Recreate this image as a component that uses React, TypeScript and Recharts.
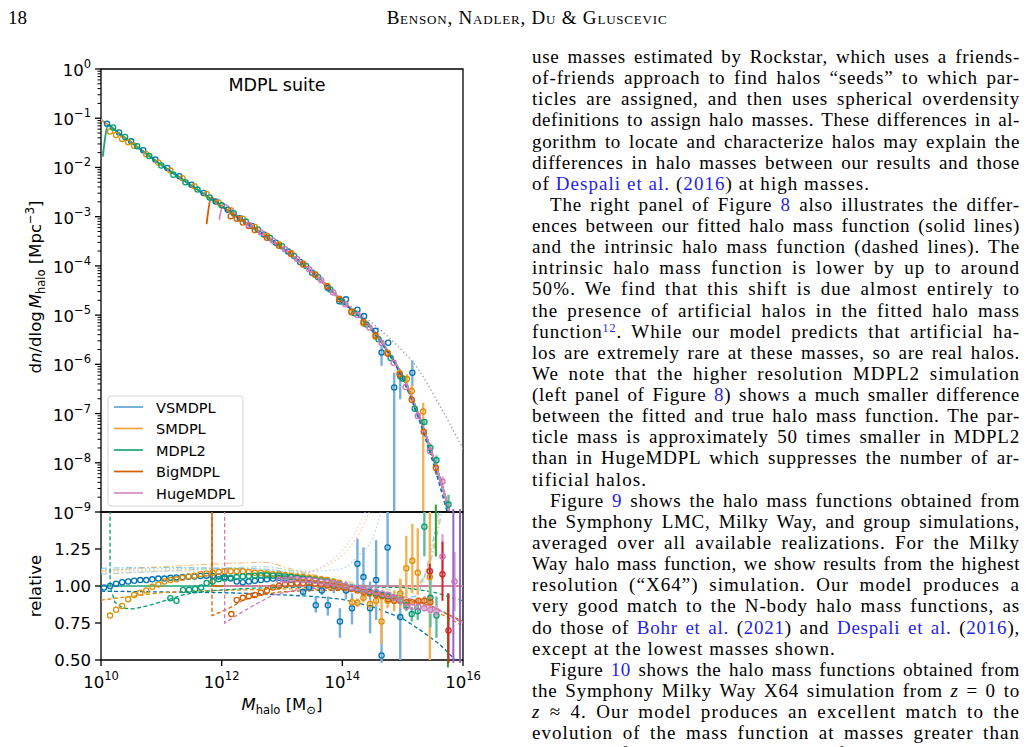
import React, { useLayoutEffect, useRef, useState } from "react";
import { ComposedChart, Line, Scatter, XAxis, YAxis, ErrorBar, ReferenceArea } from "recharts";

type Row = number[];

// ---- top panel: log10 M_halo and log10 dn/dlogM of the fitted HMF ----
const fitLogM = [10.0, 10.25, 10.5, 10.75, 11.0, 11.25, 11.5, 11.75, 12.0, 12.25, 12.5, 12.75, 13.0, 13.25, 13.5, 13.75, 14.0, 14.25, 14.5, 14.75, 15.0, 15.25, 15.5, 15.75, 16.0];
const fitLogN = [-1.03, -1.26, -1.49, -1.72, -1.95, -2.16, -2.37, -2.58, -2.79, -3.0, -3.21, -3.42, -3.63, -3.87, -4.13, -4.42, -4.72, -4.98, -5.29, -5.73, -6.24, -6.98, -7.86, -8.88, -10.1];

// resolution-limit spikes at the start of some fits
const mdpl2Spike: Row[] = [[10.03, -1.78], [10.12, -1.14]];
const bigmdplSpike: Row[] = [[11.75, -3.15], [11.83, -2.62]];
const hugemdplSpike: Row[] = [[11.96, -3.06], [12.03, -2.74], [12.25, -2.97]];

// reference model (dotted)
const refModel: Row[] = [[10.0, -1.02], [11.0, -1.94], [12.0, -2.78], [13.0, -3.61], [13.5, -4.1], [14.0, -4.68], [14.3, -4.97], [14.62, -5.29], [15.0, -5.73], [15.18, -5.97], [15.62, -6.85], [16.0, -7.72]];
const vsmdplIntrinsic: Row[] = [[14.0, -4.74], [14.5, -5.33], [15.0, -6.3], [15.25, -7.05], [15.5, -7.98], [15.75, -9.05]];

// measured points [logM, logN, errDown, errUp]
const vsmdplTop: Row[] = [[10.1, -1.11], [10.3, -1.29], [10.5, -1.47], [10.7, -1.65], [10.9, -1.84], [11.1, -2.01], [11.3, -2.18], [11.5, -2.35], [11.7, -2.52], [11.9, -2.69], [12.1, -2.86], [12.3, -3.03], [12.5, -3.19], [12.7, -3.36], [12.9, -3.53], [13.1, -3.71], [13.3, -3.92], [13.5, -4.14], [13.76, -4.45], [13.95, -4.72], [14.06, -4.68], [14.25, -4.89], [14.36, -5.02], [14.55, -5.32], [14.65, -5.76, 0.27, 0.16], [14.76, -5.56], [14.86, -6.47, 2.53, 0.3], [14.96, -6.24, 0.47, 0.08], [15.16, -6.17, 0.27, 0.24]];
const smdplTop: Row[] = [[10.15, -1.27], [10.25, -1.34], [10.35, -1.42], [10.45, -1.49], [10.55, -1.56], [10.75, -1.73], [10.95, -1.9], [11.15, -2.06], [11.35, -2.22], [11.55, -2.38], [11.75, -2.54], [11.95, -2.71], [12.15, -2.87], [12.35, -3.04], [12.55, -3.21], [12.75, -3.39], [12.95, -3.56], [13.15, -3.74], [13.35, -3.95], [13.55, -4.17], [13.75, -4.41], [13.95, -4.67], [14.15, -4.94, 0.02, 0.02], [14.35, -5.17, 0.03, 0.03], [14.55, -5.44, 0.05, 0.05], [14.75, -5.77, 0.08, 0.07], [14.95, -6.18, 0.1, 0.09], [15.07, -6.3, 0.12, 0.1], [15.15, -6.54, 0.15, 0.12], [15.34, -6.96, 2.04, 0.18]];
const mdpl2Top: Row[] = [[10.2, -1.19], [10.4, -1.38], [10.6, -1.57], [10.8, -1.77], [11.0, -1.96], [11.2, -2.15], [11.4, -2.3], [11.6, -2.45], [11.8, -2.61], [12.0, -2.77], [12.2, -2.93], [12.4, -3.1], [12.6, -3.26], [12.8, -3.43], [13.0, -3.6], [13.2, -3.8], [13.4, -4.0], [13.6, -4.23], [13.8, -4.48], [14.0, -4.73], [14.2, -4.96], [14.4, -5.19], [14.6, -5.49], [14.8, -5.87], [15.0, -6.29, 0.02, 0.02], [15.2, -6.9, 0.04, 0.04], [15.36, -7.17, 0.06, 0.05], [15.46, -7.7, 0.1, 0.09], [15.56, -7.95, 0.3, 0.1], [15.76, -8.85, 0.15, 0.2]];
const bigmdplTop: Row[] = [[12.15, -2.99], [12.25, -3.04], [12.35, -3.12], [12.45, -3.19], [12.55, -3.27], [12.75, -3.43], [12.95, -3.59], [13.15, -3.76], [13.35, -3.97], [13.55, -4.18], [13.75, -4.42], [13.95, -4.68], [14.15, -4.93], [14.35, -5.14], [14.55, -5.41], [14.75, -5.78], [14.95, -6.2], [15.15, -6.72, 0.03, 0.03], [15.35, -7.37, 0.06, 0.05], [15.55, -8.1, 0.12, 0.1]];
const hugemdplTop: Row[] = [[12.45, -3.17], [12.65, -3.32], [12.85, -3.49], [13.05, -3.66], [13.25, -3.86], [13.45, -4.07], [13.65, -4.29], [13.85, -4.54], [14.05, -4.78], [14.25, -5.0], [14.45, -5.25], [14.65, -5.56], [14.85, -5.97], [15.05, -6.46], [15.25, -7.05, 0.02, 0.02], [15.45, -7.76, 0.05, 0.05], [15.66, -8.38, 0.12, 0.1]];

// ---- bottom panel: ratio to fit [logM, ratio, errDown, errUp] ----
const vsmdplRel: Row[] = [[10.05, 0.99], [10.15, 1.0], [10.25, 1.015], [10.35, 1.025], [10.45, 1.03], [10.55, 1.035], [10.65, 1.04], [10.75, 1.04], [10.85, 1.045], [10.95, 1.05], [11.05, 1.05], [11.15, 1.055], [11.25, 1.058], [11.35, 1.06], [11.45, 1.063], [11.55, 1.065], [11.65, 1.068], [11.75, 1.07], [11.85, 1.068], [11.95, 1.065], [12.05, 1.06], [12.15, 1.05], [12.25, 1.03], [12.35, 1.025], [12.45, 1.03], [12.55, 1.035], [12.65, 1.04], [12.75, 1.045], [12.85, 1.05], [12.95, 1.055], [13.05, 1.05], [13.15, 1.04], [13.25, 1.02], [13.35, 0.96, 0.02, 0.02], [13.45, 0.99, 0.03, 0.03], [13.56, 0.87, 0.05, 0.06], [13.66, 0.97, 0.03, 0.03], [13.76, 0.87, 0.07, 0.06], [13.86, 1.0, 0.05, 0.05], [13.96, 0.76, 0.11, 0.09], [14.06, 0.97, 0.06, 0.06], [14.16, 0.85, 0.11, 0.1], [14.25, 1.15, 0.19, 0.17], [14.35, 1.06, 0.15, 0.2], [14.46, 0.85, 0.17, 0.18], [14.56, 1.04, 0.27, 0.27], [14.65, 0.53, 0.05, 0.24], [14.75, 1.26, 0.26, 0.24], [14.96, 0.79, 0.29, 0.25]];
const smdplRel: Row[] = [[10.15, 0.8], [10.25, 0.84], [10.35, 0.865], [10.45, 0.91], [10.55, 0.94], [10.65, 0.955], [10.75, 0.97], [10.85, 0.995], [10.95, 1.01], [11.05, 1.03], [11.15, 1.04], [11.25, 1.045], [11.35, 1.055], [11.45, 1.065], [11.55, 1.07], [11.65, 1.08], [11.75, 1.085], [11.85, 1.09], [11.95, 1.095], [12.05, 1.1], [12.15, 1.1], [12.25, 1.1], [12.35, 1.1], [12.45, 1.095], [12.55, 1.09], [12.65, 1.09], [12.75, 1.085], [12.85, 1.08], [12.95, 1.08], [13.05, 1.075], [13.15, 1.07], [13.25, 1.065], [13.35, 1.06], [13.45, 1.055], [13.55, 1.05], [13.65, 1.045], [13.75, 1.04], [13.85, 1.03, 0.01, 0.01], [13.95, 1.02, 0.01, 0.01], [14.05, 1.0, 0.02, 0.02], [14.16, 0.89, 0.02, 0.02], [14.25, 0.887, 0.03, 0.03], [14.35, 0.92, 0.03, 0.03], [14.46, 0.878, 0.03, 0.03], [14.56, 0.9, 0.04, 0.04], [14.65, 0.76, 0.15, 0.2], [14.75, 0.9, 0.05, 0.05], [14.86, 0.9, 0.07, 0.07], [14.96, 0.95, 0.1, 0.1], [15.06, 1.12, 0.2, 0.22], [15.16, 1.17, 0.22, 0.25], [15.25, 1.09, 0.15, 0.3], [15.45, 1.06, 0.56, 0.44]];
const mdpl2Rel: Row[] = [[11.15, 0.917], [11.25, 0.9], [11.36, 0.973], [11.46, 0.975], [11.56, 0.98], [11.66, 0.99], [11.75, 1.02], [11.85, 1.03], [11.95, 1.045], [12.05, 1.05], [12.15, 1.055], [12.25, 1.06], [12.35, 1.065], [12.45, 1.068], [12.55, 1.07], [12.65, 1.072], [12.75, 1.072], [12.85, 1.07], [12.95, 1.07], [13.05, 1.065], [13.15, 1.06], [13.25, 1.055], [13.35, 1.05], [13.45, 1.045], [13.55, 1.04], [13.65, 1.035], [13.75, 1.03], [13.85, 1.02], [13.95, 1.01], [14.05, 1.0], [14.15, 0.99], [14.25, 0.98], [14.35, 0.975], [14.45, 0.96], [14.56, 0.95], [14.66, 0.94], [14.76, 0.93], [14.86, 0.92, 0.02, 0.02], [14.96, 0.9, 0.03, 0.03], [15.06, 0.87, 0.04, 0.04], [15.15, 0.81, 0.05, 0.05], [15.25, 0.83, 0.06, 0.07], [15.36, 1.4, 0.2, 0.1], [15.46, 0.92, 0.2, 0.2], [15.56, 0.8, 0.15, 0.13]];
const bigmdplRel: Row[] = [[12.16, 0.81], [12.25, 0.905], [12.35, 0.92], [12.45, 0.93], [12.55, 0.94], [12.65, 0.955], [12.75, 0.97], [12.85, 0.99], [12.95, 1.0], [13.05, 1.01], [13.15, 1.015], [13.25, 1.02], [13.35, 1.02], [13.45, 1.02], [13.55, 1.015], [13.65, 1.01], [13.75, 1.005], [13.85, 1.0], [13.95, 0.995], [14.05, 0.99], [14.15, 0.98], [14.25, 0.97], [14.35, 0.96], [14.45, 0.95], [14.56, 0.94], [14.66, 0.93], [14.76, 0.91], [14.86, 0.9], [14.96, 0.9], [15.06, 0.89, 0.01, 0.01], [15.16, 0.89, 0.01, 0.01], [15.26, 0.9, 0.02, 0.02], [15.36, 0.9, 0.03, 0.03], [15.46, 0.89, 0.04, 0.04]];
const hugemdplRel: Row[] = [[12.95, 1.04], [13.05, 1.04], [13.15, 1.045], [13.25, 1.045], [13.35, 1.04], [13.45, 1.04], [13.55, 1.035], [13.65, 1.03], [13.75, 1.025], [13.85, 1.02], [13.95, 1.01], [14.05, 1.0], [14.15, 0.99], [14.25, 0.985], [14.35, 0.975], [14.45, 0.97], [14.56, 0.96], [14.66, 0.95], [14.76, 0.94], [14.86, 0.92], [14.96, 0.9], [15.06, 0.86], [15.16, 0.86], [15.26, 0.86], [15.36, 0.85, 0.02, 0.02], [15.46, 0.84, 0.03, 0.03], [15.56, 0.83, 0.04, 0.04], [15.66, 1.2, 0.15, 0.15], [15.86, 1.03, 0.2, 0.2]];
const redRel: Row[] = [[15.45, 1.1, 0.05, 0.05], [15.66, 1.08, 0.18, 0.22], [15.76, 0.7, 0.22, 0.25]];
const purpleRel: Row[] = [[15.84, 1.0, 0.52, 0.52], [15.95, 1.0, 0.52, 0.52]];
const greenRel: Row[] = [[15.55, 1.35, 0.15, 0.2], [15.75, 0.75, 0.3, 0.2]];

// intrinsic (dashed) ratio curves
const vsmdplDash: Row[] = [[10.0, 0.965], [11.0, 0.96], [12.0, 0.955], [12.5, 0.95], [13.0, 0.94], [13.5, 0.93], [14.0, 0.91], [14.5, 0.86], [15.0, 0.78], [15.3, 0.7], [15.6, 0.61], [16.0, 0.45]];
const smdplDash: Row[] = [[10.0, 0.905], [10.5, 0.93], [11.0, 0.955], [11.5, 0.965], [12.0, 0.97], [12.5, 0.975], [13.0, 0.98], [13.5, 0.98], [14.0, 0.975], [14.5, 0.96], [15.0, 0.92], [15.5, 0.84], [16.0, 0.73]];
const mdpl2Dash: Row[] = [[10.15, 1.6], [10.15, 1.0], [10.23, 0.89], [10.37, 0.85], [10.54, 0.845], [10.81, 0.87], [11.09, 0.905], [11.36, 0.94], [11.64, 0.96], [11.9, 0.97], [12.5, 0.985], [13.0, 0.99], [14.0, 0.995], [15.0, 0.99], [15.5, 0.96], [16.0, 0.9]];
const bigmdplDash: Row[] = [[11.84, 1.6], [11.84, 0.8], [12.08, 0.84], [12.36, 0.905], [12.64, 0.94], [12.97, 0.96], [13.5, 0.97], [14.0, 0.97], [14.5, 0.955], [15.0, 0.92], [15.5, 0.86], [16.0, 0.76]];
const hugemdplDash: Row[] = [[12.05, 1.6], [12.05, 0.75], [12.3, 0.815], [12.58, 0.88], [12.86, 0.94], [13.2, 0.97], [13.6, 0.985], [14.0, 0.985], [14.5, 0.97], [15.0, 0.93], [15.5, 0.86], [16.0, 0.75]];

// fit/fit = 1 (solid)
const unityGreen: Row[] = [[10.0, 1.0], [16.0, 1.0]];
const unityOrange: Row[] = [[11.84, 1.6], [11.84, 1.0], [16.0, 1.0]];
const unityPink: Row[] = [[12.03, 1.0], [16.0, 1.0]];

// faint comparison curves
const faintBlue: Row[] = [[10.0, 1.12], [11.0, 1.125], [12.0, 1.12], [12.7, 1.115], [13.2, 1.08], [13.7, 1.04], [14.2, 0.99], [14.6, 0.95], [15.0, 0.92], [15.2, 0.93], [15.35, 1.05], [15.5, 1.3], [15.62, 1.55]];
const faintOrange: Row[] = [[10.0, 1.1], [11.0, 1.13], [12.0, 1.15], [12.7, 1.16], [13.2, 1.11], [13.7, 1.06], [14.2, 1.02], [14.7, 0.98], [15.0, 0.96], [15.3, 1.02], [15.5, 1.25], [15.65, 1.55]];
const faintGreen: Row[] = [[10.0, 1.08], [11.0, 1.1], [12.0, 1.12], [12.7, 1.13], [13.2, 1.1], [13.7, 1.05], [14.2, 1.01], [15.0, 0.95], [15.4, 1.1], [15.6, 1.4], [15.7, 1.6]];
const dottedPink: Row[] = [[10.0, 1.09], [12.0, 1.1], [12.8, 1.09], [13.2, 1.08], [13.6, 1.12], [14.0, 1.24], [14.2, 1.35], [14.4, 1.52]];
const dottedOrange: Row[] = [[10.0, 1.1], [12.0, 1.11], [12.8, 1.1], [13.3, 1.09], [13.7, 1.13], [14.1, 1.25], [14.3, 1.37], [14.5, 1.55]];
const dottedBlue: Row[] = [[10.0, 1.11], [12.0, 1.12], [13.0, 1.1], [13.5, 1.1], [14.0, 1.12], [14.3, 1.22], [14.5, 1.32], [14.65, 1.52]];

const xTicks = [10, 12, 14, 16];
const yMajorTop = [-9, -8, -7, -6, -5, -4, -3, -2, -1, 0];
const minorFactors = [2, 3, 4, 5, 6, 7, 8, 9];
const yTicksRel = [0.5, 0.75, 1.0, 1.25];
const legendNames = ["VSMDPL", "SMDPL", "MDPL2", "BigMDPL", "HugeMDPL"];

const C = { vsmdpl: "#0173b2", smdpl: "#de8f05", mdpl2: "#029e73", bigmdpl: "#d55e00", hugemdpl: "#cc78bc" };
const LIGHT = { vsmdpl: "#5ea3d5", smdpl: "#eaa73b", mdpl2: "#1ba478", bigmdpl: "#d55e00", hugemdpl: "#d48ac6" };
const ERR = { vsmdpl: "#78b0dc", smdpl: "#f4b257", mdpl2: "#5fbd9d", bigmdpl: "#e58a4d", hugemdpl: "#e0a6d5" };
const legendColors = [LIGHT.vsmdpl, LIGHT.smdpl, LIGHT.mdpl2, LIGHT.bigmdpl, LIGHT.hugemdpl];
const FONT = '"DejaVu Sans", sans-serif';
const SERIF = '"Liberation Serif", serif';
const LINK = "#1f1fe6";

const zip = (xs: number[], ys: number[]) => xs.map((x, i) => ({ x, y: ys[i] }));
const rowsToLine = (rows: Row[]) => rows.map(([x, y]) => ({ x, y }));
const rowsToPts = (rows: Row[]) => rows.map(([x, y, lo = 0, hi = lo]) => ({ x, y, err: [lo, hi] }));

const vsmdplFit = zip(fitLogM, fitLogN);
const mdpl2Fit = [...rowsToLine(mdpl2Spike), ...zip(fitLogM.slice(1), fitLogN.slice(1))];
const bigmdplFit = [...rowsToLine(bigmdplSpike), ...zip(fitLogM.slice(8), fitLogN.slice(8))];
const hugemdplFit = [...rowsToLine(hugemdplSpike), ...zip(fitLogM.slice(10), fitLogN.slice(10))];

const yTicksTop: number[] = [...yMajorTop];
yMajorTop.slice(0, -1).forEach((n) => minorFactors.forEach((k) => yTicksTop.push(n + Math.log10(k))));

const ring = (color: string, r = 2.6) => (p: any) =>
  p.cx == null ? <g /> : <circle cx={p.cx} cy={p.cy} r={r} fill="none" stroke={color} strokeWidth={1.3} />;
const noMark = () => <g />;

const LogYTick = (props: any) => {
  const { x, y, payload } = props;
  const v = payload.value as number;
  const major = Math.abs(v - Math.round(v)) < 1e-6;
  return (
    <g>
      <line x1={x} x2={x - (major ? 6 : 3.5)} y1={y} y2={y} stroke="#000" strokeWidth={major ? 1.3 : 1} />
      {major && (
        <text x={x - 10} y={y + 7} textAnchor="end" fontSize={16.5} fontFamily={FONT} fill="#000">
          10
          <tspan dy={-8} fontSize={11.5}>{v === 0 ? "0" : `\u2212${-v}`}</tspan>
        </text>
      )}
    </g>
  );
};

const RelYTick = (props: any) => {
  const { x, y, payload } = props;
  return (
    <g>
      <line x1={x} x2={x - 6} y1={y} y2={y} stroke="#000" strokeWidth={1.3} />
      <text x={x - 10} y={y + 6} textAnchor="end" fontSize={16.5} fontFamily={FONT} fill="#000">
        {(payload.value as number).toFixed(2)}
      </text>
    </g>
  );
};

const LogXTick = (props: any) => {
  const { x, y, payload } = props;
  return (
    <g>
      <line x1={x} x2={x} y1={y} y2={y + 6} stroke="#000" strokeWidth={1.3} />
      <text x={x} y={y + 28} textAnchor="middle" fontSize={16.5} fontFamily={FONT} fill="#000">
        10
        <tspan dy={-8} fontSize={11.5}>{payload.value}</tspan>
      </text>
    </g>
  );
};

const A = ({ children }: { children: React.ReactNode }) => <span style={{ color: LINK }}>{children}</span>;
const Sup = ({ children }: { children: React.ReactNode }) => (
  <span style={{ fontSize: 12, position: "relative", top: -6, lineHeight: 0 }}>{children}</span>
);

type BodyLine = { t: React.ReactNode; indent?: boolean; last?: boolean };
const bodyLines: BodyLine[] = [
  { t: <>use masses estimated by Rockstar, which uses a friends-</> },
  { t: <>of-friends approach to find halos “seeds” to which par-</> },
  { t: <>ticles are assigned, and then uses spherical overdensity</> },
  { t: <>definitions to assign halo masses. These differences in al-</> },
  { t: <>gorithm to locate and characterize halos may explain the</> },
  { t: <>differences in halo masses between our results and those</> },
  { t: <>of <A>Despali et al.</A> (<A>2016</A>) at high masses.</>, last: true },
  { t: <>The right panel of Figure <A>8</A> also illustrates the differ-</>, indent: true },
  { t: <>ences between our fitted halo mass function (solid lines)</> },
  { t: <>and the intrinsic halo mass function (dashed lines). The</> },
  { t: <>intrinsic halo mass function is lower by up to around</> },
  { t: <>50%. We find that this shift is due almost entirely to</> },
  { t: <>the presence of artificial halos in the fitted halo mass</> },
  { t: <>function<Sup><A>12</A></Sup>. While our model predicts that artificial ha-</> },
  { t: <>los are extremely rare at these masses, so are real halos.</> },
  { t: <>We note that the higher resolution MDPL2 simulation</> },
  { t: <>(left panel of Figure <A>8</A>) shows a much smaller difference</> },
  { t: <>between the fitted and true halo mass function. The par-</> },
  { t: <>ticle mass is approximately 50 times smaller in MDPL2</> },
  { t: <>than in HugeMDPL which suppresses the number of ar-</> },
  { t: <>tificial halos.</>, last: true },
  { t: <>Figure <A>9</A> shows the halo mass functions obtained from</>, indent: true },
  { t: <>the Symphony LMC, Milky Way, and group simulations,</> },
  { t: <>averaged over all available realizations. For the Milky</> },
  { t: <>Way halo mass function, we show results from the highest</> },
  { t: <>resolution (“X64”) simulation. Our model produces a</> },
  { t: <>very good match to the N-body halo mass functions, as</> },
  { t: <>do those of <A>Bohr et al.</A> (<A>2021</A>) and <A>Despali et al.</A> (<A>2016</A>),</> },
  { t: <>except at the lowest masses shown.</>, last: true },
  { t: <>Figure <A>10</A> shows the halo mass functions obtained from</>, indent: true },
  { t: <>the Symphony Milky Way X64 simulation from <i>z</i> = 0 to</> },
  { t: <><i>z</i> ≈ 4. Our model produces an excellent match to the</> },
  { t: <>evolution of the mass function at masses greater than</> },
  { t: <>around 10<Sup>9</Sup>M<sub>⊙</sub>, and to the lack of evolution at lower</> },
];

const COL_LEFT = 532;
const COL_WIDTH = 488;
const BODY_FS = 19;
const PITCH = 21.13;

// Justified column: per line, part of the free space goes to tracking (wider Computer Modern look)
function BodyText() {
  const refs = useRef<(HTMLSpanElement | null)[]>([]);
  const [spacing, setSpacing] = useState<number[] | null>(null);
  useLayoutEffect(() => {
    const out = bodyLines.map((ln, i) => {
      const el = refs.current[i];
      if (!el) return 0.6;
      const w0 = el.getBoundingClientRect().width;
      const n = Math.max(1, (el.textContent || "").length);
      if (ln.last) return 1.05;
      const target = COL_WIDTH - (ln.indent ? 18 : 0);
      const extra = target - w0;
      return extra < 0 ? extra / n - 0.03 : Math.min(1.2, (extra * 0.65) / n);
    });
    setSpacing(out);
  }, []);
  return (
    <>
      {bodyLines.map((ln, i) => {
        const w = COL_WIDTH - (ln.indent ? 18 : 0);
        const base: React.CSSProperties = {
          position: "absolute",
          left: COL_LEFT + (ln.indent ? 18 : 0),
          top: 46 + i * PITCH,
          fontFamily: SERIF,
          fontSize: BODY_FS,
          lineHeight: `${PITCH}px`,
          color: "#000",
        };
        if (!spacing) {
          return (
            <span key={i} ref={(el) => { refs.current[i] = el; }} style={{ ...base, whiteSpace: "nowrap", display: "inline-block" }}>
              {ln.t}
            </span>
          );
        }
        return (
          <div
            key={i}
            style={{
              ...base,
              width: w,
              letterSpacing: spacing[i],
              whiteSpace: "nowrap",
              textAlign: ln.last ? "left" : "justify",
              textAlignLast: ln.last ? "left" : "justify",
            }}
          >
            {ln.t}
          </div>
        );
      })}
    </>
  );
}

const topSeries = [
  { key: "vsmdpl", pts: vsmdplTop, fit: vsmdplFit },
  { key: "smdpl", pts: smdplTop, fit: vsmdplFit },
  { key: "mdpl2", pts: mdpl2Top, fit: mdpl2Fit },
  { key: "bigmdpl", pts: bigmdplTop, fit: bigmdplFit },
  { key: "hugemdpl", pts: hugemdplTop, fit: hugemdplFit },
] as const;

const relSeries = [
  { key: "vsmdpl", pts: vsmdplRel, dash: vsmdplDash },
  { key: "smdpl", pts: smdplRel, dash: smdplDash },
  { key: "mdpl2", pts: mdpl2Rel, dash: mdpl2Dash },
  { key: "bigmdpl", pts: bigmdplRel, dash: bigmdplDash },
  { key: "hugemdpl", pts: hugemdplRel, dash: hugemdplDash },
] as const;

const faintLines = [
  { d: faintBlue, c: "#56b4e9", dash: "6 2.5 1.5 2.5" },
  { d: faintOrange, c: "#f0b35a", dash: "6 2.5 1.5 2.5" },
  { d: faintGreen, c: "#7fcdb3", dash: "6 2.5 1.5 2.5" },
  { d: dottedPink, c: "#f3b6df", dash: "1.5 2.5" },
  { d: dottedOrange, c: "#f3c27a", dash: "1.5 2.5" },
  { d: dottedBlue, c: "#8cc6ee", dash: "1.5 2.5" },
];

export default function App() {
  return (
    <div style={{ position: "absolute", left: 0, top: 0, width: 1027, height: 747, overflow: "hidden", background: "#fff" }}>
      {/* upper panel */}
      <div style={{ position: "absolute", left: 0, top: 0 }}>
        <ComposedChart width={500} height={540} margin={{ top: 69, right: 37, bottom: 28, left: 0 }}>
          <XAxis type="number" dataKey="x" domain={[10, 16]} allowDataOverflow hide />
          <YAxis
            type="number"
            dataKey="y"
            domain={[-9, 0]}
            allowDataOverflow
            width={101}
            ticks={yTicksTop}
            interval={0}
            tickSize={0}
            tickMargin={0}
            tickLine={false}
            axisLine={false}
            tick={LogYTick}
          />
          <Line data={rowsToLine(refModel)} dataKey="y" type="monotone" stroke="#a39182" strokeWidth={1.3} strokeDasharray="1.3 2.6" dot={false} activeDot={false} isAnimationActive={false} />
          {topSeries.map((s) => (
            <Scatter key={s.key + "p"} data={rowsToPts(s.pts)} dataKey="y" shape={ring(C[s.key])} isAnimationActive={false}>
              <ErrorBar dataKey="err" direction="y" width={0} stroke={ERR[s.key]} strokeWidth={2.4} />
            </Scatter>
          ))}
          {topSeries.map((s) => (
            <Line key={s.key + "f"} data={s.fit} dataKey="y" type="monotone" stroke={LIGHT[s.key]} strokeWidth={1.8} dot={false} activeDot={false} isAnimationActive={false} />
          ))}
          <Line data={rowsToLine(vsmdplIntrinsic)} dataKey="y" type="monotone" stroke={C.vsmdpl} strokeWidth={1.6} strokeDasharray="4 2.5" dot={false} activeDot={false} isAnimationActive={false} />
          <ReferenceArea x1={10} x2={16} y1={-9} y2={0} fill="none" stroke="#000" strokeWidth={1.3} />
        </ComposedChart>
      </div>

      {/* lower panel */}
      <div style={{ position: "absolute", left: 0, top: 500 }}>
        <ComposedChart width={500} height={247} margin={{ top: 12, right: 37, bottom: 0, left: 0 }}>
          <XAxis
            type="number"
            dataKey="x"
            domain={[10, 16]}
            allowDataOverflow
            height={87}
            ticks={xTicks}
            interval={0}
            tickSize={0}
            tickMargin={0}
            tickLine={false}
            axisLine={false}
            tick={LogXTick}
          />
          <YAxis
            type="number"
            dataKey="y"
            domain={[0.5, 1.5]}
            allowDataOverflow
            width={101}
            ticks={yTicksRel}
            interval={0}
            tickSize={0}
            tickMargin={0}
            tickLine={false}
            axisLine={false}
            tick={RelYTick}
          />
          {faintLines.map((f, i) => (
            <Line key={"faint" + i} data={rowsToLine(f.d)} dataKey="y" type="monotone" stroke={f.c} strokeOpacity={0.75} strokeWidth={1.2} strokeDasharray={f.dash} dot={false} activeDot={false} isAnimationActive={false} />
          ))}
          {relSeries.map((s) => (
            <Line key={s.key + "d"} data={rowsToLine(s.dash)} dataKey="y" type="linear" stroke={C[s.key]} strokeWidth={1.3} strokeDasharray="4 2.5" dot={false} activeDot={false} isAnimationActive={false} />
          ))}
          <Line data={rowsToLine(unityGreen)} dataKey="y" type="linear" stroke={LIGHT.mdpl2} strokeWidth={1.7} dot={false} activeDot={false} isAnimationActive={false} />
          <Line data={rowsToLine(unityOrange)} dataKey="y" type="linear" stroke={LIGHT.bigmdpl} strokeWidth={1.5} dot={false} activeDot={false} isAnimationActive={false} />
          <Line data={rowsToLine(unityPink)} dataKey="y" type="linear" stroke={LIGHT.hugemdpl} strokeWidth={1.7} dot={false} activeDot={false} isAnimationActive={false} />
          {relSeries.map((s) => (
            <Scatter key={s.key + "r"} data={rowsToPts(s.pts)} dataKey="y" shape={ring(C[s.key])} isAnimationActive={false}>
              <ErrorBar dataKey="err" direction="y" width={0} stroke={ERR[s.key]} strokeWidth={2.4} />
            </Scatter>
          ))}
          <Scatter data={rowsToPts(greenRel)} dataKey="y" shape={noMark} isAnimationActive={false}>
            <ErrorBar dataKey="err" direction="y" width={0} stroke="#2ca02c" strokeWidth={2} />
          </Scatter>
          <Scatter data={rowsToPts(redRel)} dataKey="y" shape={ring("#d62728")} isAnimationActive={false}>
            <ErrorBar dataKey="err" direction="y" width={0} stroke="#d62728" strokeWidth={2} />
          </Scatter>
          <Scatter data={rowsToPts(purpleRel)} dataKey="y" shape={noMark} isAnimationActive={false}>
            <ErrorBar dataKey="err" direction="y" width={0} stroke="#9467bd" strokeWidth={2} />
          </Scatter>
          <ReferenceArea x1={10} x2={16} y1={0.5} y2={1.5} fill="none" stroke="#000" strokeWidth={1.3} />
        </ComposedChart>
      </div>

      {/* figure texts and legend */}
      <svg width={1027} height={747} style={{ position: "absolute", left: 0, top: 0, pointerEvents: "none" }}>
        <text x={277} y={91} textAnchor="middle" fontSize={17.5} fontFamily={FONT} fill="#000">MDPL suite</text>
        <text transform="translate(41,287) rotate(-90)" textAnchor="middle" fontSize={16.5} fontFamily={FONT} fill="#000">
          d<tspan fontStyle="italic">n</tspan>/dlog
          <tspan dx={3} fontStyle="italic">M</tspan>
          <tspan fontSize={11.5} dy={4}>halo</tspan>
          <tspan dy={-4}>{" [Mpc"}</tspan>
          <tspan fontSize={11.5} dy={-7}>{"\u22123"}</tspan>
          <tspan dy={7}>]</tspan>
        </text>
        <text transform="translate(41,586) rotate(-90)" textAnchor="middle" fontSize={16.5} fontFamily={FONT} fill="#000">relative</text>
        <text x={282} y={710} textAnchor="middle" fontSize={16.5} fontFamily={FONT} fill="#000">
          <tspan fontStyle="italic">M</tspan>
          <tspan fontSize={11.5} dy={4}>halo</tspan>
          <tspan dy={-4}>{" [M"}</tspan>
          <tspan fontSize={11.5} dy={4}>{"\u2299"}</tspan>
          <tspan dy={-4}>]</tspan>
        </text>
        <rect x={108} y={396} width={135} height={110} rx={3} fill="#fff" fillOpacity={0.85} stroke="#d4d4d4" strokeWidth={1} />
        {legendNames.map((n, i) => (
          <g key={n}>
            <line x1={114} x2={143} y1={407 + i * 21.5} y2={407 + i * 21.5} stroke={legendColors[i]} strokeWidth={1.7} />
            <text x={156} y={412.5 + i * 21.5} fontSize={14.5} fontFamily={FONT} fill="#000">{n}</text>
          </g>
        ))}
      </svg>

      {/* page header and body text */}
      <div style={{ position: "absolute", left: 8, top: 7, fontFamily: SERIF, fontSize: BODY_FS, lineHeight: `${PITCH}px` }}>18</div>
      <div style={{ position: "absolute", left: 327, width: 400, top: 7, textAlign: "center", fontFamily: SERIF, fontSize: BODY_FS, letterSpacing: 0.8, lineHeight: `${PITCH}px`, fontVariant: "small-caps" }}>
        Benson, Nadler, Du &amp; Gluscevic
      </div>
      <BodyText />
    </div>
  );
}
